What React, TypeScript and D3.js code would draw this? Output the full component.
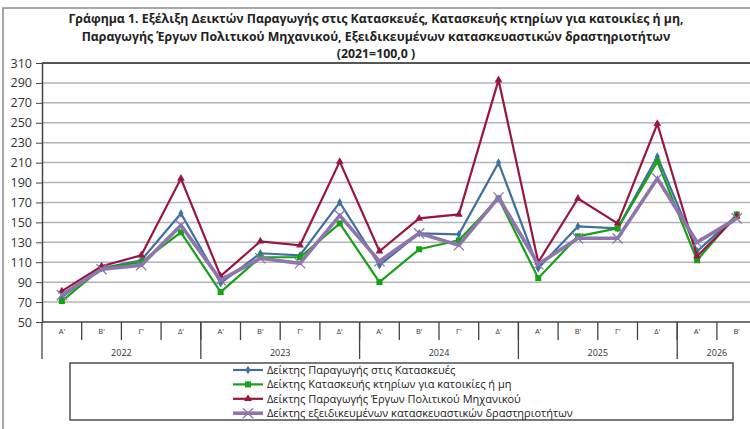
import { useEffect, useRef } from 'react';
import * as d3 from 'd3';

// quarters and years on the x axis
const quarters = ["Α'", "Β'", "Γ'", "Δ'", "Α'", "Β'", "Γ'", "Δ'", "Α'", "Β'", "Γ'", "Δ'", "Α'", "Β'", "Γ'", "Δ'", "Α'", "Β'"];
const years = ['2022', '2023', '2024', '2025', '2026'];
const yearSpans = [4, 4, 4, 4, 2];

const yTicks = [50, 70, 90, 110, 130, 150, 170, 190, 210, 230, 250, 270, 290, 310];

const titleLines = [
  'Γράφημα 1. Εξέλιξη  Δεικτών Παραγωγής στις Κατασκευές,  Κατασκευής κτηρίων για κατοικίες ή  μη,',
  'Παραγωγής  Έργων Πολιτικού Μηχανικού,  Εξειδικευμένων κατασκευαστικών δραστηριοτήτων',
  '(2021=100,0 )',
];

const construction = [75, 104, 112, 159, 89, 119, 117, 170, 107, 139, 138, 210, 104, 146, 144, 216, 121, 157];
const buildings = [71, 104, 110, 140, 80, 115, 115, 149, 90, 123, 132, 174, 94, 136, 144, 211, 112, 158];
const civil = [81, 106, 117, 194, 96, 131, 127, 211, 121, 154, 158, 293, 110, 174, 149, 249, 116, 156];
const specialised = [77, 103, 107, 147, 92, 114, 109, 157, 111, 139, 127, 175, 108, 134, 134, 194, 130, 154];

const seriesNames = [
  'Δείκτης Παραγωγής στις Κατασκευές',
  'Δείκτης Κατασκευής κτηρίων για κατοικίες ή μη',
  'Δείκτης Παραγωγής Έργων Πολιτικού Μηχανικού',
  'Δείκτης εξειδικευμένων κατασκευαστικών δραστηριοτήτων',
];

type Series = { name: string; values: number[]; color: string; width: number; marker: string };

const App = () => {
  const ref = useRef<SVGSVGElement>(null);

  useEffect(() => {
    const svg = d3.select(ref.current);
    svg.selectAll('*').remove();

    const width = 750;
    const height = 429;
    const margin = { top: 63, left: 42, bottom: 322 };
    const bandW = 39.7;
    const font = 'Open Sans, Noto Sans, sans-serif';

    const x = d3
      .scaleBand()
      .domain(quarters.map((_, i) => String(i)))
      .range([margin.left, margin.left + bandW * quarters.length]);
    const y = d3.scaleLinear().domain([50, 310]).range([margin.bottom, margin.top]);

    // outer frame
    svg.append('path').attr('d', `M3,${height}V8H${width}`).attr('fill', 'none').attr('stroke', '#8a8a8a').attr('stroke-width', 1.5);

    // title
    svg
      .append('g')
      .selectAll('text')
      .data(titleLines)
      .join('text')
      .attr('x', 376)
      .attr('y', (_, i) => 23 + i * 17.5)
      .attr('text-anchor', 'middle')
      .attr('font-family', font)
      .attr('font-weight', 'bold')
      .attr('font-size', 12.3)
      .attr('fill', '#222')
      .text((d) => d);

    // grid
    svg
      .append('g')
      .selectAll('line')
      .data(yTicks.slice(1, -1))
      .join('line')
      .attr('x1', margin.left)
      .attr('x2', width)
      .attr('y1', (d) => y(d))
      .attr('y2', (d) => y(d))
      .attr('stroke', '#b4b4b4')
      .attr('stroke-width', 1.5);

    svg.append('line').attr('x1', margin.left).attr('x2', width).attr('y1', y(310)).attr('y2', y(310)).attr('stroke', '#555').attr('stroke-width', 2);

    // y axis
    const yAxis = svg
      .append('g')
      .attr('transform', `translate(${margin.left},0)`)
      .call(d3.axisLeft(y).tickValues(yTicks).tickSize(6).tickSizeOuter(0).tickPadding(4));
    yAxis.select('.domain').attr('stroke', '#444').attr('stroke-width', 1.5);
    yAxis.selectAll('.tick line').attr('stroke', '#444');
    yAxis.selectAll('text').attr('font-family', font).attr('font-size', 12.5).attr('fill', '#333');

    // x axis
    svg.append('line').attr('x1', margin.left).attr('x2', width).attr('y1', margin.bottom).attr('y2', margin.bottom).attr('stroke', '#444').attr('stroke-width', 1.5);

    const xg = svg.append('g');
    quarters.forEach((q, i) => {
      const x0 = x(String(i))!;
      xg.append('text')
        .attr('x', x0 + x.bandwidth() / 2)
        .attr('y', margin.bottom + 12)
        .attr('text-anchor', 'middle')
        .attr('font-family', font)
        .attr('font-size', 7.5)
        .attr('fill', '#333')
        .text(q);
      if (i > 0) {
        xg.append('line')
          .attr('x1', x0)
          .attr('x2', x0)
          .attr('y1', margin.bottom)
          .attr('y2', margin.bottom + 18)
          .attr('stroke', '#444')
          .attr('stroke-width', 1.3);
      }
    });

    let start = 0;
    years.forEach((yr, k) => {
      const x0 = x(String(start))!;
      const x1 = x0 + bandW * yearSpans[k];
      xg.append('line')
        .attr('x1', x0)
        .attr('x2', x0)
        .attr('y1', margin.bottom)
        .attr('y2', margin.bottom + 37)
        .attr('stroke', '#444')
        .attr('stroke-width', 1.3);
      xg.append('text')
        .attr('x', (x0 + x1) / 2)
        .attr('y', margin.bottom + 34)
        .attr('text-anchor', 'middle')
        .attr('font-family', font)
        .attr('font-size', 9)
        .attr('fill', '#333')
        .text(yr);
      start += yearSpans[k];
    });

    const series: Series[] = [
      { name: seriesNames[0], values: construction, color: '#40709f', width: 2.2, marker: 'diamond' },
      { name: seriesNames[1], values: buildings, color: '#16a116', width: 2.2, marker: 'square' },
      { name: seriesNames[2], values: civil, color: '#98163f', width: 2.2, marker: 'triangle' },
      { name: seriesNames[3], values: specialised, color: '#8e76ad', width: 3.6, marker: 'cross' },
    ];

    const cx = (i: number) => x(String(i))! + x.bandwidth() / 2;
    const line = d3
      .line<number>()
      .x((_, i) => cx(i))
      .y((d) => y(d));

    const symbolFor = (m: string) =>
      m === 'diamond' ? d3.symbolDiamond : m === 'square' ? d3.symbolSquare : m === 'triangle' ? d3.symbolTriangle : d3.symbolX;
    const sizeFor = (m: string) => (m === 'diamond' ? 22 : m === 'square' ? 36 : m === 'triangle' ? 26 : 70);

    const drawMarker = (g: d3.Selection<SVGGElement, unknown, null, undefined>, s: Series, px: number, py: number) => {
      const p = d3.symbol().type(symbolFor(s.marker)).size(sizeFor(s.marker))()!;
      if (s.marker === 'cross') {
        g.append('path').attr('d', p).attr('transform', `translate(${px},${py})`).attr('fill', 'none').attr('stroke', s.color).attr('stroke-width', 1.3);
      } else {
        g.append('path').attr('d', p).attr('transform', `translate(${px},${py})`).attr('fill', s.color);
      }
    };

    const plot = svg.append('g');
    series.forEach((s) => {
      plot.append('path').datum(s.values).attr('d', line).attr('fill', 'none').attr('stroke', s.color).attr('stroke-width', s.width).attr('stroke-linejoin', 'miter');
      const mg = plot.append('g') as d3.Selection<SVGGElement, unknown, null, undefined>;
      s.values.forEach((v, i) => drawMarker(mg, s, cx(i), y(v)));
    });

    // legend
    const lg = svg.append('g');
    lg.append('rect').attr('x', 70).attr('y', 363).attr('width', 663).attr('height', 57).attr('fill', '#fff').attr('stroke', '#333').attr('stroke-width', 1.3);
    series.forEach((s, i) => {
      const ly = 370 + i * 14.4;
      lg.append('line').attr('x1', 233).attr('x2', 263).attr('y1', ly).attr('y2', ly).attr('stroke', s.color).attr('stroke-width', s.width);
      drawMarker(lg as d3.Selection<SVGGElement, unknown, null, undefined>, s, 248, ly);
      lg.append('text')
        .attr('x', 267)
        .attr('y', ly + 4)
        .attr('font-family', font)
        .attr('font-size', 11)
        .attr('fill', '#222')
        .text(s.name);
    });
  }, []);

  return <svg ref={ref} width={750} height={429} style={{ position: 'absolute', left: 0, top: 0, background: '#fff' }} />;
};

export default App;
